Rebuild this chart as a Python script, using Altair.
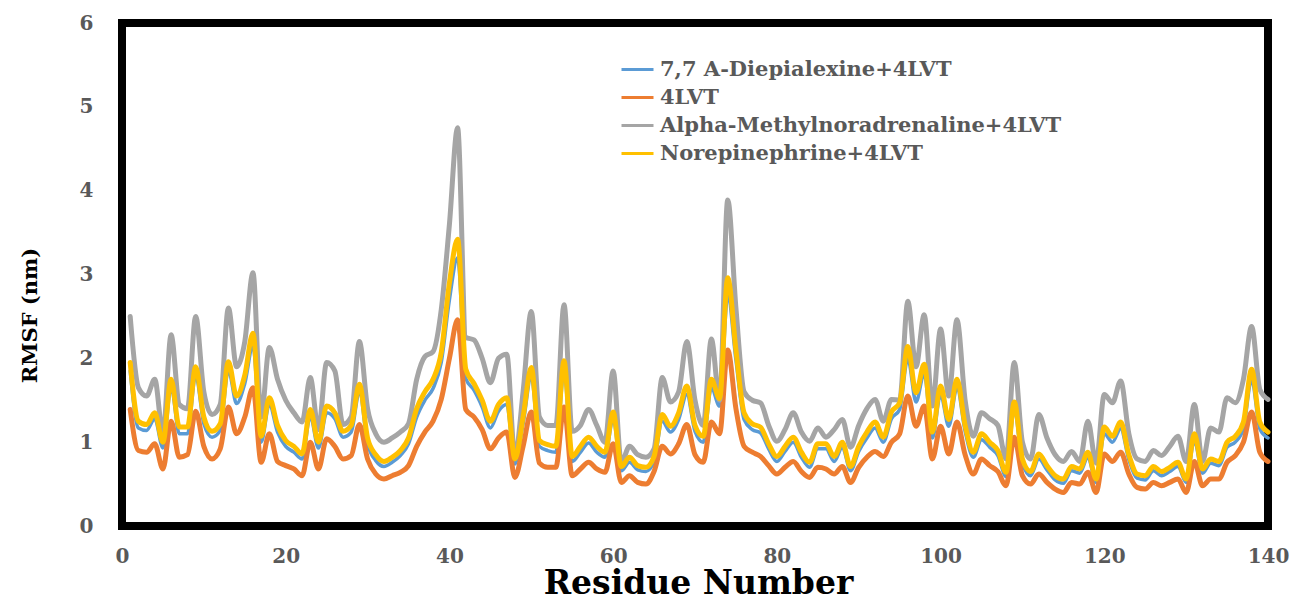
import altair as alt
import pandas as pd

residues = list(range(1, 141))

names = ["7,7 A-Diepialexine+4LVT", "4LVT",
         "Alpha-Methylnoradrenaline+4LVT", "Norepinephrine+4LVT"]
colors = ["#5B9BD5", "#ED7D31", "#A5A5A5", "#FFC000"]
widths = [3.5, 5, 5, 5]

diepialexine = [
    1.85, 1.17, 1.14, 1.28, 0.93, 1.66, 1.10, 1.10, 1.80, 1.22,
    1.06, 1.14, 1.86, 1.46, 1.70, 2.15, 1.00, 1.45, 1.12, 0.95,
    0.88, 0.80, 1.31, 0.93, 1.35, 1.28, 1.06, 1.12, 1.60, 0.98,
    0.78, 0.71, 0.76, 0.84, 0.98, 1.30, 1.50, 1.64, 1.95, 2.70,
    3.20, 1.76, 1.62, 1.42, 1.17, 1.37, 1.45, 0.74, 1.22, 1.78,
    0.95, 0.90, 0.88, 1.85, 0.77, 0.88, 0.99, 0.88, 0.82, 1.28,
    0.66, 0.76, 0.67, 0.65, 0.77, 1.25, 1.12, 1.27, 1.57, 1.13,
    1.00, 1.65, 1.43, 2.75, 1.98, 1.27, 1.15, 1.11, 0.92, 0.77,
    0.89, 1.00, 0.82, 0.70, 0.92, 0.92, 0.77, 0.94, 0.66, 0.89,
    1.05, 1.17, 1.00, 1.28, 1.39, 2.00, 1.48, 1.82, 1.05, 1.57,
    1.19, 1.65, 1.13, 0.82, 1.03, 0.94, 0.84, 0.59, 1.40, 0.75,
    0.60, 0.80, 0.67, 0.55, 0.51, 0.66, 0.63, 0.82, 0.52, 1.10,
    1.00, 1.16, 0.79, 0.57, 0.55, 0.66, 0.60, 0.65, 0.71, 0.52,
    1.02, 0.63, 0.75, 0.72, 0.94, 1.00, 1.16, 1.75, 1.16, 1.05,
]

apo = [
    1.39, 0.90, 0.88, 0.98, 0.68, 1.25, 0.82, 0.85, 1.37, 0.95,
    0.80, 0.92, 1.42, 1.10, 1.30, 1.65, 0.76, 1.10, 0.77, 0.72,
    0.68, 0.60, 1.00, 0.68, 1.04, 0.95, 0.80, 0.84, 1.21, 0.80,
    0.62, 0.56, 0.60, 0.64, 0.72, 0.95, 1.12, 1.25, 1.51, 2.00,
    2.46, 1.39, 1.30, 1.15, 0.92, 1.05, 1.12, 0.58, 0.95, 1.36,
    0.75, 0.70, 0.70, 1.42, 0.60, 0.68, 0.76, 0.68, 0.64, 0.98,
    0.52, 0.60, 0.52, 0.50, 0.65, 0.95, 0.86, 0.98, 1.21, 0.85,
    0.76, 1.24, 1.10, 2.10, 1.40, 0.95, 0.88, 0.83, 0.72, 0.62,
    0.70, 0.77, 0.65, 0.58, 0.70, 0.68, 0.62, 0.71, 0.52, 0.70,
    0.82, 0.89, 0.83, 1.00, 1.10, 1.55, 1.19, 1.43, 0.80, 1.19,
    0.86, 1.24, 0.85, 0.62, 0.80, 0.72, 0.65, 0.48, 1.06, 0.60,
    0.50, 0.62, 0.52, 0.44, 0.40, 0.52, 0.50, 0.64, 0.40, 0.86,
    0.77, 0.88, 0.62, 0.46, 0.44, 0.52, 0.48, 0.52, 0.56, 0.40,
    0.77, 0.48, 0.56, 0.56, 0.76, 0.84, 1.00, 1.36, 0.88, 0.77,
]

alpha = [
    2.50, 1.65, 1.55, 1.75, 1.10, 2.28, 1.45, 1.40, 2.50, 1.60,
    1.33, 1.45, 2.60, 1.90, 2.20, 3.02, 1.30, 2.13, 1.75, 1.50,
    1.35, 1.24, 1.77, 1.15, 1.95, 1.85, 1.21, 1.30, 2.20, 1.40,
    1.10, 1.00, 1.05, 1.12, 1.22, 1.75, 2.02, 2.08, 2.58, 3.60,
    4.75, 2.25, 2.22, 2.00, 1.71, 2.00, 2.05, 0.83, 1.60, 2.56,
    1.30, 1.20, 1.20, 2.64, 1.13, 1.20, 1.39, 1.20, 1.00, 1.85,
    0.76, 0.95, 0.85, 0.82, 0.92, 1.77, 1.48, 1.60, 2.20, 1.50,
    1.20, 2.23, 1.50, 3.89, 2.60, 1.60, 1.50, 1.47, 1.20, 1.01,
    1.15, 1.35, 1.12, 1.01, 1.17, 1.06, 1.15, 1.27, 0.94, 1.20,
    1.40, 1.51, 1.25, 1.51, 1.50, 2.68, 1.90, 2.52, 1.43, 2.35,
    1.55, 2.46, 1.50, 1.07, 1.35, 1.28, 1.20, 0.80, 1.95, 1.00,
    0.80, 1.33, 1.05, 0.85, 0.77, 0.89, 0.77, 1.25, 0.75, 1.57,
    1.47, 1.73, 1.10, 0.80, 0.77, 0.90, 0.84, 0.95, 1.07, 0.77,
    1.45, 0.77, 1.17, 1.12, 1.53, 1.47, 1.75, 2.38, 1.63, 1.51,
]

norepi = [
    1.95, 1.25, 1.21, 1.35, 1.00, 1.75, 1.18, 1.18, 1.90, 1.30,
    1.13, 1.22, 1.96, 1.55, 1.80, 2.30, 1.07, 1.53, 1.20, 1.02,
    0.95, 0.86, 1.39, 1.00, 1.43, 1.35, 1.13, 1.20, 1.69, 1.05,
    0.85, 0.77, 0.82, 0.90, 1.05, 1.40, 1.60, 1.75, 2.07, 2.90,
    3.42, 1.87, 1.70, 1.50, 1.25, 1.45, 1.53, 0.80, 1.30, 1.89,
    1.02, 0.97, 0.95, 1.97, 0.83, 0.95, 1.06, 0.95, 0.88, 1.36,
    0.71, 0.82, 0.72, 0.70, 0.83, 1.33, 1.19, 1.35, 1.67, 1.20,
    1.07, 1.75, 1.52, 2.96, 2.10, 1.35, 1.22, 1.18, 0.98, 0.83,
    0.95, 1.06, 0.88, 0.76, 0.98, 0.98, 0.83, 1.00, 0.71, 0.95,
    1.12, 1.24, 1.06, 1.36, 1.47, 2.14, 1.59, 1.93, 1.12, 1.67,
    1.27, 1.75, 1.20, 0.88, 1.10, 1.00, 0.90, 0.64, 1.48, 0.80,
    0.65, 0.86, 0.72, 0.60, 0.56, 0.71, 0.68, 0.88, 0.56, 1.18,
    1.07, 1.24, 0.85, 0.62, 0.60, 0.71, 0.65, 0.70, 0.76, 0.56,
    1.10, 0.68, 0.80, 0.77, 1.00, 1.07, 1.24, 1.87, 1.24, 1.12,
]

x_ticks = [0, 20, 40, 60, 80, 100, 120, 140]
y_ticks = [0, 1, 2, 3, 4, 5, 6]

rows = []
for name, vals in zip(names, [diepialexine, apo, alpha, norepi]):
    for r, v in zip(residues, vals):
        rows.append({"Residue": r, "RMSF": v, "Series": name})
df = pd.DataFrame(rows)

FONT = "DejaVu Serif"
LABEL_GRAY = "#595959"

x_enc = alt.X(
    "Residue:Q",
    scale=alt.Scale(domain=[0, 140], nice=False, zero=False),
    axis=alt.Axis(
        values=x_ticks, title="Residue Number", grid=False, domain=False,
        ticks=False, tickSize=0, labelFlush=False,
        labelFont=FONT, labelFontSize=20, labelFontWeight="bold",
        labelColor=LABEL_GRAY, labelPadding=20,
        titleFont=FONT, titleFontSize=33, titleFontWeight="bold",
        titleColor="black", titleX=576, titleY=67,
        titleAlign="center", titleBaseline="alphabetic",
    ),
)
y_enc = alt.Y(
    "RMSF:Q",
    scale=alt.Scale(domain=[0, 6], nice=False),
    axis=alt.Axis(
        values=y_ticks, title="RMSF (nm)", grid=False, domain=False,
        ticks=False, tickSize=0, labelFlush=False,
        labelFont=FONT, labelFontSize=20, labelFontWeight="bold",
        labelColor=LABEL_GRAY, labelPadding=29,
        titleFont=FONT, titleFontSize=21, titleFontWeight="bold",
        titleColor="black", titleX=-92, titleY=292, titleAngle=270,
        titleAlign="center", titleBaseline="middle",
    ),
)
color_enc = alt.Color(
    "Series:N",
    scale=alt.Scale(domain=names, range=colors),
    legend=alt.Legend(
        title=None, orient="none", legendX=498, legendY=29,
        symbolType="stroke", symbolSize=1024, symbolStrokeWidth=3,
        labelFont=FONT, labelFontSize=21, labelFontWeight="bold",
        labelColor=LABEL_GRAY, labelOffset=5, rowPadding=0, padding=0,
        labelLimit=800,
    ),
)

layers = []
for name, w in zip(names, widths):
    layers.append(
        alt.Chart(df)
        .transform_filter(alt.datum.Series == name)
        .mark_line(interpolate="monotone", strokeWidth=w, strokeCap="round",
                   strokeJoin="round")
        .encode(x=x_enc, y=y_enc, color=color_enc)
    )

chart = (
    alt.layer(*layers)
    .properties(
        width=1146, height=503,
        autosize=alt.AutoSizeParams(type="none"),
        padding={"left": 122, "top": 23, "right": 22, "bottom": 72},
        background="white",
    )
    .configure_view(stroke="black", strokeWidth=8)
)

chart.save("out.html", embed_options={"renderer": "svg", "actions": False})
